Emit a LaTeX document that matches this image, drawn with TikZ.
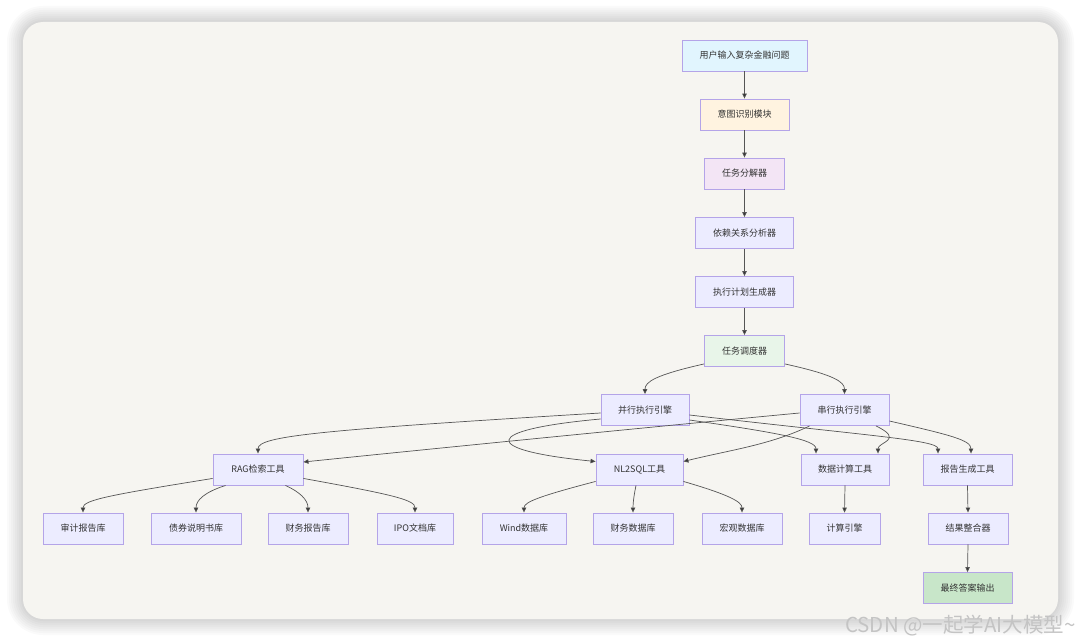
\documentclass[tikz,border=0pt]{standalone}
\usepackage{fontspec}
\setmainfont{Noto Sans CJK SC}
\usetikzlibrary{arrows.meta,calc}
\definecolor{cardbg}{HTML}{F6F5F1}
\definecolor{nodefill}{HTML}{ECECFF}
\definecolor{nodeline}{HTML}{B4A4E8}
\definecolor{edgecol}{HTML}{555555}
\definecolor{txtcol}{HTML}{333333}
\definecolor{cblue}{HTML}{E1F5FE}
\definecolor{corange}{HTML}{FFF3E0}
\definecolor{cpurple}{HTML}{F3E5F5}
\definecolor{cgreen}{HTML}{E8F5E9}
\definecolor{cdgreen}{HTML}{C8E6C9}
\definecolor{wmark}{HTML}{C4C4C4}
\tikzset{
  box/.style={rectangle, draw=nodeline, line width=0.9pt, fill=nodefill,
    minimum height=31pt, inner sep=0pt, text=txtcol, font=\fontsize{9pt}{11pt}\selectfont},
  conn/.style={draw=edgecol, line width=0.7pt,
    -{Triangle[length=5pt,width=4.5pt,fill=txtcol]}},
}
\begin{document}
\begin{tikzpicture}[x=1pt,y=-1pt]
\useasboundingbox (0,0) rectangle (1080,642);
\fill[white] (0,0) rectangle (1080,642);
% shadow
\foreach \s in {16,14,12,10,8,6,4,2}{
  \fill[black,opacity=0.02,rounded corners={20pt+\s pt}] (23-\s,22-\s) rectangle (1058+\s,619+\s);
}
\fill[cardbg,rounded corners=20pt] (23,22) rectangle (1058,619);

% top chain
\node[box,fill=cblue,minimum width=125pt] (u) at (744.5,55.5) {用户输入复杂金融问题};
\node[box,fill=corange,minimum width=89pt] (yi) at (744.5,114.5) {意图识别模块};
\node[box,fill=cpurple,minimum width=80pt] (fj) at (744.5,173.5) {任务分解器};
\node[box,minimum width=98pt] (yl) at (744.5,233) {依赖关系分析器};
\node[box,minimum width=98pt] (zx) at (744.5,292) {执行计划生成器};
\node[box,fill=cgreen,minimum width=80pt] (dd) at (744.5,351) {任务调度器};
% engines
\node[box,minimum width=88pt] (bx) at (645,410) {并行执行引擎};
\node[box,minimum width=89pt] (cx) at (844.5,410) {串行执行引擎};
% tools
\node[box,minimum width=90pt] (rag) at (258,469.5) {RAG检索工具};
\node[box,minimum width=87pt] (nl) at (639.5,469.5) {NL2SQL工具};
\node[box,minimum width=88pt] (sj) at (845,469.5) {数据计算工具};
\node[box,minimum width=89pt] (bg) at (967.5,469.5) {报告生成工具};
% leaves
\node[box,minimum width=80pt] (sjk) at (83,528.5) {审计报告库};
\node[box,minimum width=90pt] (zq) at (196,528.5) {债券说明书库};
\node[box,minimum width=80pt] (cw) at (308,528.5) {财务报告库};
\node[box,minimum width=76pt] (ipo) at (415,528.5) {IPO文档库};
\node[box,minimum width=84pt] (wind) at (524,528.5) {Wind数据库};
\node[box,minimum width=80pt] (cwsj) at (633,528.5) {财务数据库};
\node[box,minimum width=80pt] (hg) at (742,528.5) {宏观数据库};
\node[box,minimum width=71pt] (js) at (844.5,528.5) {计算引擎};
\node[box,minimum width=80pt] (jg) at (968,528.5) {结果整合器};
\node[box,fill=cdgreen,minimum width=89pt] (zz) at (967.5,588) {最终答案输出};

% chain edges
\draw[conn] (u.south) -- (yi.north);
\draw[conn] (yi.south) -- (fj.north);
\draw[conn] (fj.south) -- (yl.north);
\draw[conn] (yl.south) -- (zx.north);
\draw[conn] (zx.south) -- (dd.north);
% scheduler to engines
\draw[conn] ($(dd.south west)+(0,-3)$) .. controls (655,375) and (645,382) .. (bx.north);
\draw[conn] ($(dd.south east)+(0,-3)$) .. controls (835,375) and (844.5,382) .. (cx.north);
% parallel engine
\draw[conn] ($(bx.west)+(0,3)$) .. controls (320,430) and (258,436) .. (rag.north);
\draw[conn] ($(bx.west)+(0,9)$) .. controls (480,430) and (480,450) .. ($(nl.west)+(0,-8)$);
\draw[conn] ($(bx.east)+(0,10)$) .. controls (780,433) and (816,440) .. ($(sj.north)+(-29,0)$);
\draw[conn] ($(bx.east)+(0,5)$) .. controls (870,436) and (938,440) .. ($(bg.north)+(-29.5,0)$);
% serial engine
\draw[conn] ($(cx.west)+(0,3)$) .. controls (640,428) and (420,450) .. ($(rag.east)+(0,-7.5)$);
\draw[conn] ($(cx.south west)+(10,0)$) .. controls (770,445) and (730,450) .. ($(nl.east)+(0,-8)$);
\draw[conn] ($(cx.south)+(31.5,0)$) .. controls (905,440) and (878,442) .. ($(sj.north)+(33,0)$);
\draw[conn] ($(cx.east)+(0,11)$) .. controls (950,435) and (971,440) .. ($(bg.north)+(3.5,0)$);
% RAG children
\draw[conn] ($(rag.south west)+(0,-7)$) .. controls (110,495) and (83,500) .. (sjk.north);
\draw[conn] ($(rag.south west)+(13,0)$) .. controls (205,492) and (196,500) .. (zq.north);
\draw[conn] ($(rag.south east)+(-18,0)$) .. controls (300,492) and (308,500) .. (cw.north);
\draw[conn] ($(rag.south east)+(0,-7)$) .. controls (395,495) and (415,500) .. (ipo.north);
% NL2SQL children
\draw[conn] ($(nl.south west)+(0,-4)$) .. controls (540,496) and (524,502) .. (wind.north);
\draw[conn] ($(nl.south)+(-3.5,0)$) .. controls (634,495) and (633,503) .. (cwsj.north);
\draw[conn] ($(nl.south east)+(0,-4)$) .. controls (730,495) and (742,502) .. (hg.north);
% straight
\draw[conn] (sj.south) -- (js.north);
\draw[conn] (bg.south) -- (jg.north);
\draw[conn] (jg.south) -- (zz.north);

% watermark
\node[anchor=west, text=wmark, inner sep=0pt, font=\fontsize{20.5pt}{22pt}\selectfont] (wm) at (845,626) {CSDN @一起学AI大模型\textasciitilde};
\end{tikzpicture}
\end{document}
